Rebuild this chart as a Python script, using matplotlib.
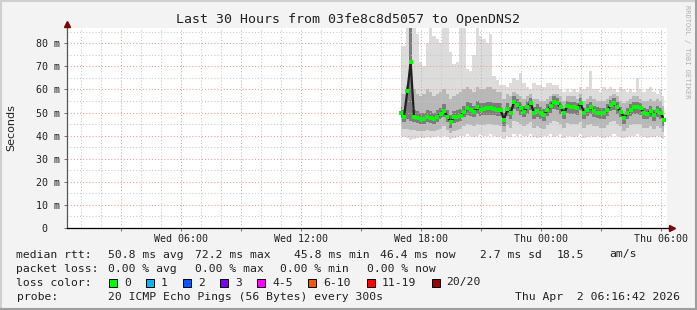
import matplotlib
matplotlib.use("Agg")
import matplotlib.pyplot as plt
import matplotlib.dates as mdates
from matplotlib.patches import Rectangle
from matplotlib.lines import Line2D
import pandas as pd
from datetime import datetime

# 10 minute samples, Wed 17:00 -> Thu 06:10 (values in ms)
times = pd.date_range("2026-04-01 17:00", periods=80, freq="10min")

median = [49.9, 48.2, 59.3, 72.0, 48.2, 47.8, 47.1, 47.1, 48.2, 47.5,
          47.2, 48.2, 49.4, 50.8, 48.2, 46.0, 47.9, 48.2, 48.6, 50.4,
          51.8, 51.1, 50.4, 52.2, 51.1, 51.4, 51.8, 51.8, 51.4, 51.1,
          51.1, 46.8, 51.4, 49.7, 54.7, 53.2, 51.8, 50.4, 52.5, 54.2,
          49.7, 50.8, 49.7, 48.9, 51.1, 52.8, 54.7, 54.0, 52.2, 49.7,
          52.8, 52.2, 52.2, 51.8, 54.0, 49.7, 51.1, 52.2, 50.8, 50.0,
          49.7, 49.7, 51.1, 53.2, 54.0, 52.2, 50.4, 47.5, 49.7, 51.1,
          52.2, 52.2, 51.8, 49.7, 49.4, 50.8, 48.9, 50.8, 49.7, 46.8]

smoke_max = [79, 79, 95, 95, 95, 84, 72, 70, 80, 95,
             83, 82, 80, 95, 95, 76, 71, 72, 95, 95,
             69, 68, 75, 95, 83, 82, 80, 84, 66, 64,
             62, 62, 61, 63, 65, 64, 67, 63, 61, 60,
             63, 62, 62, 61, 63, 63, 62, 62, 60, 59,
             60, 59, 60, 59, 61, 60, 61, 68, 60, 60,
             59, 61, 60, 61, 60, 59, 61, 60, 59, 60,
             59, 65, 60, 59, 60, 61, 59, 58, 60, 57]

smoke_hi2 = [58, 58, 62, 95, 60, 58, 57, 58, 60, 59,
             57, 58, 59, 60, 58, 56, 57, 58, 59, 60,
             61, 60, 59, 61, 60, 60, 61, 61, 60, 59,
             59, 56, 58, 57, 59, 58, 57, 56, 57, 58,
             56, 56, 55, 55, 56, 57, 58, 58, 57, 55,
             57, 57, 57, 56, 58, 55, 56, 57, 56, 55,
             55, 55, 56, 57, 58, 57, 55, 54, 55, 56,
             57, 57, 56, 55, 55, 56, 55, 56, 55, 53]

smoke_hi1 = [52.5, 51, 61, 95, 51, 50.5, 50, 50, 51, 50.5,
             50, 51, 52, 53.5, 51, 49, 50.5, 51, 51.5, 53,
             54.5, 54, 53, 55, 54, 54, 54.5, 54.5, 54, 54,
             54, 50, 54, 52.5, 57, 56, 54.5, 53, 55, 56.5,
             52.5, 53.5, 52.5, 51.5, 53.5, 55, 57, 56.5, 54.5, 52,
             55, 54.5, 54.5, 54, 56.5, 52, 53.5, 54.5, 53, 52.5,
             52, 52, 53.5, 55.5, 56.5, 54.5, 52.5, 50, 52, 53.5,
             54.5, 54.5, 54, 52, 51.5, 53, 51, 53, 52, 49]

smoke_lo1 = [47.5, 46, 47, 46.5, 46, 45.5, 45, 45, 46, 45.5,
             45, 46, 47, 48, 46, 43.5, 45.5, 46, 46.5, 48,
             49, 48.5, 48, 49.5, 48.5, 49, 49, 49, 49, 48.5,
             48.5, 44, 48.5, 47, 51.5, 50.5, 49, 48, 49.5, 51,
             47, 48, 47, 46.5, 48.5, 50, 51.5, 51, 49.5, 47,
             50, 49.5, 49.5, 49, 51, 47, 48.5, 49.5, 48, 47.5,
             47, 47, 48.5, 50.5, 51, 49.5, 48, 45, 47, 48.5,
             49.5, 49.5, 49, 47, 47, 48, 46.5, 48, 47, 44]

smoke_lo2 = [44, 43, 43, 42.5, 42.5, 42, 42, 42, 42.5, 42,
             42, 42.5, 43, 44, 42.5, 41, 42, 42.5, 43, 44,
             45, 44.5, 44, 45, 44.5, 44.5, 45, 45, 44.5, 44.5,
             44, 41.5, 44.5, 43.5, 46.5, 46, 45, 44, 45, 46,
             43.5, 44, 43.5, 43, 44.5, 45.5, 46.5, 46, 45, 43.5,
             45.5, 45, 45, 45, 46, 43.5, 44.5, 45, 44, 44,
             43.5, 43.5, 44.5, 46, 46.5, 45, 44, 42, 43.5, 44.5,
             45, 45, 45, 43.5, 43.5, 44, 43, 44, 43.5, 41.5]

smoke_min = [40, 39.5, 39, 38, 38.5, 39, 39.5, 39, 39.5, 39,
             39.5, 40, 39.5, 40, 39.5, 38.5, 39, 39.5, 40, 40,
             40.5, 40, 39.5, 40, 40.5, 40, 40, 40.5, 40, 39.5,
             40, 38.5, 40, 39.5, 40.5, 40, 40.5, 40, 40, 40.5,
             39.5, 39, 39.5, 40, 40, 40.5, 39.5, 40, 40.5, 39,
             40, 40, 39.5, 40, 40.5, 39, 39.5, 40, 39.5, 40,
             39.5, 39, 39.5, 40, 40.5, 40, 39.5, 39, 39.5, 40,
             40, 40.5, 40, 39.5, 39, 39.5, 39.5, 40, 39.5, 38.5]

y_ticks = [0, 10, 20, 30, 40, 50, 60, 70, 80]
y_labels = [" 0  ", "10 m", "20 m", "30 m", "40 m", "50 m", "60 m", "70 m", "80 m"]

title = "Last 30 Hours from 03fe8c8d5057 to OpenDNS2"
rtt_stats = ["median rtt:", "50.8 ms avg", "72.2 ms max", "45.8 ms min",
             "46.4 ms now", "2.7 ms sd", "18.5", "am/s"]
loss_stats = ["packet loss:", "0.00 % avg", "0.00 % max", "0.00 % min", "0.00 % now"]
loss_names = ["0", "1", "2", "3", "4-5", "6-10", "11-19", "20/20"]
loss_colors = ["#00ff00", "#00b8ff", "#0059ff", "#7a00ff", "#ff00ff",
               "#ff5500", "#ff0000", "#a10000"]
probe_text = "20 ICMP Echo Pings (56 Bytes) every 300s"
stamp = "Thu Apr  2 06:16:42 2026"

W, H = 697, 310
BG = "#f3f3f3"
MONO = "DejaVu Sans Mono"


def fx(px):
    return px / W


def fy(py):
    return 1 - py / H


fig = plt.figure(figsize=(W / 100, H / 100), dpi=100, facecolor=BG)
ax = fig.add_axes([fx(67), fy(228), 600 / W, 200 / H])
ax.set_facecolor("white")

# smoke
ax.fill_between(times, smoke_min, smoke_max, step="mid", color="#dcdcdc", lw=0)
ax.fill_between(times, smoke_lo2, smoke_hi2, step="mid", color="#b8b8b8", lw=0)
ax.fill_between(times, smoke_lo1, smoke_hi1, step="mid", color="#7c7c7c", lw=0)
ax.plot(times, median, color="#202020", lw=1.6, zorder=3)
ax.plot(times, median, ls="none", marker="s", ms=2.3, mew=0, color="#00ff00", zorder=4)

ax.set_xlim(datetime(2026, 4, 1, 0, 19), datetime(2026, 4, 2, 6, 19))
ax.set_ylim(0, 86.6)

ax.xaxis.set_major_locator(mdates.HourLocator(byhour=range(0, 24, 3)))
ax.xaxis.set_minor_locator(mdates.HourLocator())
ax.xaxis.set_major_formatter(plt.FuncFormatter(
    lambda v, p: mdates.num2date(v).strftime("%a %H:%M")
    if mdates.num2date(v).hour % 6 == 0 else ""))
ax.set_yticks(y_ticks)
ax.set_yticklabels(y_labels)
ax.set_yticks([5, 15, 25, 35, 45, 55, 65, 75, 85], minor=True)

ax.grid(which="minor", color="#c8c8c8", lw=0.75, ls=(0, (1, 2)), zorder=5)
ax.grid(which="major", color="#f29a9a", lw=0.75, ls=(0, (1, 2)), zorder=5)
ax.set_axisbelow(False)

ax.tick_params(which="major", length=2.5, width=0.7, color="#707070",
               labelsize=7.2, pad=2.5)
ax.tick_params(axis="x", which="major", pad=1.5)
ax.tick_params(which="minor", length=0)
for lab in ax.get_xticklabels() + ax.get_yticklabels():
    lab.set_fontfamily(MONO)
    lab.set_color("#202020")

for s in ax.spines.values():
    s.set_visible(False)

# axes with arrows
ax.add_line(Line2D([0, 0], [0, 1.015], transform=ax.transAxes, color="#555555",
                   lw=0.9, clip_on=False, zorder=6))
ax.add_line(Line2D([0, 1.008], [0, 0], transform=ax.transAxes, color="#000000",
                   lw=0.9, clip_on=False, zorder=6))
ax.plot([0], [1.02], marker="^", ms=4, color="#7f0000", transform=ax.transAxes,
        clip_on=False, zorder=7)
ax.plot([1.008], [0], marker=">", ms=4, color="#7f0000", transform=ax.transAxes,
        clip_on=False, zorder=7)

ax.set_ylabel("Seconds", fontsize=8, color="#202020")
ax.yaxis.set_label_coords((16 - 67) / 600, 0.5)

fig.text(0.5, fy(19), title, family=MONO, fontsize=9.5, ha="center", va="center",
         color="#202020")
fig.text(fx(687), fy(5), "RRDTOOL / TOBI OETIKER", family=MONO, fontsize=5,
         rotation=270, ha="center", va="top", color="#b0b0b0")

# legend block
def put(x, y, s):
    fig.text(fx(x), fy(y), s, family=MONO, fontsize=8.2, ha="left", va="center",
             color="#202020")


for x, s in zip([16.5, 108, 195, 294, 380, 480.5, 557, 609.5], rtt_stats):
    put(x, 254.5, s)
for x, s in zip([16.5, 108, 195, 280, 366.5], loss_stats):
    put(x, 268.5, s)
put(16.5, 282.5, "loss color:")
box_x = [108.8, 145.8, 182.8, 220, 257, 308, 366.5, 431.6]
for x, name, c in zip(box_x, loss_names, loss_colors):
    fig.patches.append(Rectangle((fx(x), fy(286.5)), 8 / W, 8 / H, transform=fig.transFigure,
                                 facecolor=c, edgecolor="#000000", lw=0.7))
    put(x + 15, 282.5, name)
put(16.5, 297, "probe:")
put(108, 297, probe_text)
put(515, 297, stamp)

# frame
fig.add_artist(Line2D([0, 1], [fy(0.8)] * 2, color="#cfcfcf", lw=1.5))
fig.add_artist(Line2D([fx(0.8)] * 2, [0, 1], color="#cfcfcf", lw=1.5))
fig.add_artist(Line2D([0, 1], [fy(309.2)] * 2, color="#9e9e9e", lw=1.5))
fig.add_artist(Line2D([fx(696.2)] * 2, [0, 1], color="#9e9e9e", lw=1.5))

fig.savefig("out.png", dpi=100, facecolor=BG)
